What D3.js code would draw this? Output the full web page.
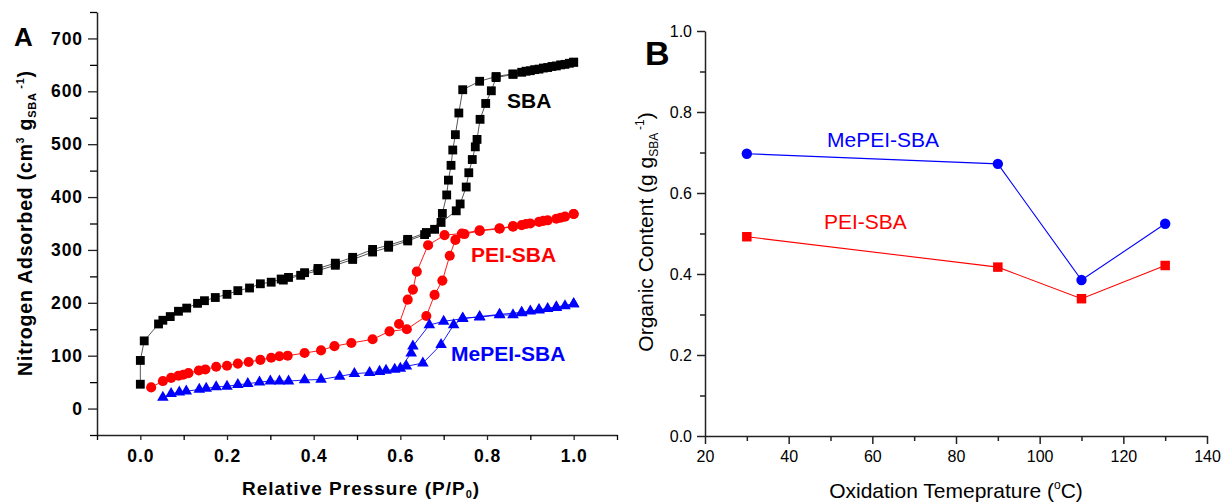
<!doctype html>
<html>

<head>
    <meta charset="UTF-8">
    <title>Isotherms and organic content</title>
    <script src="https://d3js.org/d3.v7.min.js"></script>
    <style>
        body { margin: 0; background: #fff; }
        svg { font-family: "Liberation Sans", Arial, sans-serif; }
    </style>
</head>

<body>
    <script>
        // panel A: N2 isotherms [P/P0, cm3/g], adsorption then desorption branch
        var sbaAds = [[0.0, 46], [0.0, 91], [0.009, 128], [0.042, 160], [0.052, 167], [0.069, 174], [0.088, 184],
            [0.107, 190], [0.132, 199], [0.148, 204], [0.173, 210], [0.2, 216], [0.225, 223], [0.252, 228],
            [0.277, 236], [0.302, 239], [0.325, 245], [0.342, 248], [0.379, 257], [0.41, 265], [0.45, 275],
            [0.49, 286], [0.536, 301], [0.573, 309], [0.617, 320], [0.66, 333], [0.694, 352], [0.729, 374],
            [0.738, 387], [0.752, 419], [0.758, 446], [0.766, 471], [0.773, 495], [0.777, 509], [0.784, 547],
            [0.797, 577], [0.81, 601], [0.821, 626], [0.86, 632], [0.88, 636], [0.9, 639], [0.92, 642],
            [0.94, 645], [0.96, 648], [0.98, 651], [1.0, 655]];
        var sbaDes = [[1.0, 655], [0.99, 653], [0.97, 650], [0.95, 647], [0.93, 644], [0.91, 641], [0.89, 638],
            [0.86, 633], [0.821, 628], [0.783, 619], [0.744, 603], [0.735, 559], [0.727, 518], [0.721, 489],
            [0.717, 460], [0.711, 432], [0.707, 404], [0.697, 369], [0.679, 339], [0.656, 329], [0.617, 317],
            [0.573, 305], [0.536, 296], [0.49, 282], [0.45, 271], [0.41, 261], [0.37, 252], [0.33, 243]];

        var peiAds = [[0.025, 40], [0.052, 52], [0.071, 58], [0.088, 62], [0.099, 64], [0.111, 67], [0.135, 72],
            [0.15, 74], [0.175, 79], [0.2, 81], [0.225, 85], [0.25, 88], [0.277, 92], [0.302, 96], [0.321, 99],
            [0.34, 100], [0.379, 105], [0.417, 110], [0.448, 118], [0.487, 124], [0.536, 131], [0.575, 146],
            [0.615, 150], [0.66, 175], [0.679, 215], [0.697, 242], [0.714, 289], [0.727, 319], [0.748, 330],
            [0.783, 336], [0.829, 340], [0.86, 344], [0.88, 347], [0.9, 350], [0.92, 353], [0.94, 356],
            [0.96, 359], [0.98, 363], [1.0, 368]];
        var peiDes = [[1.0, 368], [0.97, 361], [0.93, 355], [0.89, 349], [0.86, 345], [0.829, 341], [0.783, 337],
            [0.742, 331], [0.702, 328], [0.664, 309], [0.638, 259], [0.629, 225], [0.617, 206], [0.597, 160]];

        var mepeiAds = [[0.052, 21], [0.071, 28], [0.09, 31], [0.106, 33], [0.136, 36], [0.152, 38], [0.175, 41],
            [0.2, 42], [0.225, 45], [0.248, 47], [0.275, 50], [0.3, 52], [0.321, 52], [0.342, 52], [0.379, 54],
            [0.417, 55], [0.46, 61], [0.494, 66], [0.529, 68], [0.552, 70], [0.567, 72], [0.587, 74],
            [0.614, 80], [0.652, 86], [0.694, 121], [0.723, 158], [0.744, 171], [0.783, 173], [0.829, 177],
            [0.86, 177], [0.88, 181], [0.9, 184], [0.92, 186], [0.94, 189], [0.96, 191], [0.98, 194], [1.0, 198]];
        var mepeiDes = [[1.0, 198], [0.96, 192], [0.92, 187], [0.88, 182], [0.829, 178], [0.783, 174],
            [0.744, 170], [0.7, 165], [0.667, 158], [0.629, 118], [0.625, 105], [0.6, 76]];

        // panel B: organic content vs oxidation temperature
        var temps = [30, 90, 110, 130];
        var mepeiContent = [0.697, 0.672, 0.385, 0.524];
        var peiContent = [0.492, 0.417, 0.339, 0.421];

        var xTicksA = [0.0, 0.2, 0.4, 0.6, 0.8, 1.0];
        var yTicksA = [0, 100, 200, 300, 400, 500, 600, 700];
        var xTicksB = [20, 40, 60, 80, 100, 120, 140];
        var yTicksB = [0.0, 0.2, 0.4, 0.6, 0.8, 1.0];

        var svg = d3.select("body").append("svg")
            .attr("width", 1223)
            .attr("height", 502);

        drawA();
        drawB();

        function styleAxis(g, size, weight, spacing) {
            g.selectAll("path, line").attr("stroke", "#222").attr("stroke-width", 1.5);
            g.selectAll("text")
                .attr("fill", "#000")
                .style("font-size", size + "px")
                .style("font-weight", weight)
                .style("letter-spacing", spacing + "px");
        }

        function drawA() {
            var x = d3.scaleLinear().domain([-0.1, 1.1]).range([97, 617]);
            var y = d3.scaleLinear().domain([-50, 750]).range([435, 12]);
            var g = svg.append("g");

            var xa = g.append("g").attr("transform", "translate(0,435)")
                .call(d3.axisBottom(x).tickValues(xTicksA).tickFormat(d3.format(".1f"))
                    .tickSize(5).tickSizeOuter(0).tickPadding(10));
            g.append("g").attr("transform", "translate(0,435)")
                .call(d3.axisBottom(x).tickValues(d3.range(-1, 12, 2).map(function (d) { return d / 10; }))
                    .tickFormat("").tickSize(5).tickSizeOuter(0))
                .call(function (s) { s.select(".domain").remove(); });
            styleAxis(xa, 17.5, "bold", 0.9);

            var ya = g.append("g").attr("transform", "translate(97,0)")
                .call(d3.axisLeft(y).tickValues(yTicksA).tickSize(9).tickSizeOuter(0).tickPadding(5));
            g.append("g").attr("transform", "translate(97,0)")
                .call(d3.axisLeft(y).tickValues(d3.range(-50, 800, 100)).tickFormat("").tickSize(7).tickSizeOuter(0))
                .call(function (s) { s.select(".domain").remove(); });
            styleAxis(ya, 17.5, "bold", 0.9);
            g.selectAll("line").attr("stroke-width", 1.3);

            var line = d3.line().x(function (d) { return x(d[0]); }).y(function (d) { return y(d[1]); });

            var series = [
                { ads: sbaAds, des: sbaDes, stroke: "#444", fill: "#000", shape: d3.symbolSquare, size: 78 },
                { ads: peiAds, des: peiDes, stroke: "#f00", fill: "#f00", shape: d3.symbolCircle, size: 80 },
                { ads: mepeiAds, des: mepeiDes, stroke: "#00f", fill: "#00f", shape: d3.symbolTriangle, size: 58 }
            ];
            series.forEach(function (s) {
                [s.ads, s.des].forEach(function (arr) {
                    g.append("path").datum(arr)
                        .attr("d", line).attr("fill", "none")
                        .attr("stroke", s.stroke).attr("stroke-width", 0.9);
                });
                g.selectAll(null).data(s.ads.concat(s.des)).enter().append("path")
                    .attr("d", d3.symbol().type(s.shape).size(s.size))
                    .attr("transform", function (d) { return "translate(" + x(d[0]) + "," + y(d[1]) + ")"; })
                    .attr("fill", s.fill);
            });

            var labels = [["SBA", 507, 108, "#000"], ["PEI-SBA", 471, 262, "#f00"], ["MePEI-SBA", 451, 361, "#00f"]];
            g.selectAll(null).data(labels).enter().append("text")
                .attr("x", function (d) { return d[1]; })
                .attr("y", function (d) { return d[2]; })
                .attr("fill", function (d) { return d[3]; })
                .style("font-size", "21px").style("font-weight", "bold")
                .text(function (d) { return d[0]; });

            g.append("text").attr("x", 14).attr("y", 46)
                .style("font-size", "26px").style("font-weight", "bold").text("A");

            var xt = g.append("text").attr("x", 361).attr("y", 495).attr("text-anchor", "middle")
                .style("font-size", "19px").style("font-weight", "bold").style("letter-spacing", "1px");
            xt.append("tspan").text("Relative Pressure (P/P");
            xt.append("tspan").attr("dy", 3).style("font-size", "11px").text("0");
            xt.append("tspan").attr("dy", -3).text(")");

            var yt = g.append("text").attr("transform", "translate(32,223) rotate(-90)").attr("text-anchor", "middle")
                .style("font-size", "19.5px").style("font-weight", "bold").style("letter-spacing", "0.8px");
            yt.append("tspan").text("Nitrogen Adsorbed (cm");
            yt.append("tspan").attr("dy", -8).style("font-size", "10px").text("3");
            yt.append("tspan").attr("dy", 8).text(" g");
            yt.append("tspan").attr("dy", 4).style("font-size", "11px").text("SBA");
            yt.append("tspan").attr("dy", -12).style("font-size", "11px").text(" -1");
            yt.append("tspan").attr("dy", 8).text(")");
        }

        function drawB() {
            var x = d3.scaleLinear().domain([20, 140]).range([705, 1207]);
            var y = d3.scaleLinear().domain([0, 1]).range([436, 31]);
            var g = svg.append("g");

            var xa = g.append("g").attr("transform", "translate(0,436)")
                .call(d3.axisBottom(x).tickValues(xTicksB).tickSize(8).tickSizeOuter(0).tickPadding(7));
            g.append("g").attr("transform", "translate(0,436)")
                .call(d3.axisBottom(x).tickValues(d3.range(30, 140, 20)).tickFormat("").tickSize(5).tickSizeOuter(0))
                .call(function (s) { s.select(".domain").remove(); });
            styleAxis(xa, 16, "normal", 0);

            var ya = g.append("g").attr("transform", "translate(705,0)")
                .call(d3.axisLeft(y).tickValues(yTicksB).tickFormat(d3.format(".1f"))
                    .tickSize(8).tickSizeOuter(0).tickPadding(5));
            g.append("g").attr("transform", "translate(705,0)")
                .call(d3.axisLeft(y).tickValues([0.1, 0.3, 0.5, 0.7, 0.9]).tickFormat("").tickSize(5).tickSizeOuter(0))
                .call(function (s) { s.select(".domain").remove(); });
            styleAxis(ya, 16, "normal", 0);
            g.selectAll("line").attr("stroke", "#222").attr("stroke-width", 1.5);

            var line = d3.line().x(function (d) { return x(d[0]); }).y(function (d) { return y(d[1]); });
            var blue = d3.zip(temps, mepeiContent);
            var red = d3.zip(temps, peiContent);

            [[red, "#f00", d3.symbolSquare, 90], [blue, "#00f", d3.symbolCircle, 85]].forEach(function (s) {
                g.append("path").datum(s[0]).attr("d", line).attr("fill", "none")
                    .attr("stroke", s[1]).attr("stroke-width", 1.1);
                g.selectAll(null).data(s[0]).enter().append("path")
                    .attr("d", d3.symbol().type(s[2]).size(s[3]))
                    .attr("transform", function (d) { return "translate(" + x(d[0]) + "," + y(d[1]) + ")"; })
                    .attr("fill", s[1]);
            });

            g.append("text").attr("x", 827).attr("y", 147).attr("fill", "#00f")
                .style("font-size", "21px").text("MePEI-SBA");
            g.append("text").attr("x", 824).attr("y", 229).attr("fill", "#f00")
                .style("font-size", "21px").text("PEI-SBA");

            g.append("text").attr("x", 645).attr("y", 65)
                .style("font-size", "34px").style("font-weight", "bold").text("B");

            var xt = g.append("text").attr("x", 956).attr("y", 498).attr("text-anchor", "middle")
                .style("font-size", "21px");
            xt.append("tspan").text("Oxidation Temeprature (");
            xt.append("tspan").attr("dy", -9).style("font-size", "12px").text("o");
            xt.append("tspan").attr("dy", 9).text("C)");

            var yt = g.append("text").attr("transform", "translate(653,232) rotate(-90)").attr("text-anchor", "middle")
                .style("font-size", "21px");
            yt.append("tspan").text("Organic Content (g g");
            yt.append("tspan").attr("dy", 5).style("font-size", "12px").text("SBA");
            yt.append("tspan").attr("dy", -14).style("font-size", "12px").text(" -1");
            yt.append("tspan").attr("dy", 9).text(")");
        }
    </script>
</body>

</html>
